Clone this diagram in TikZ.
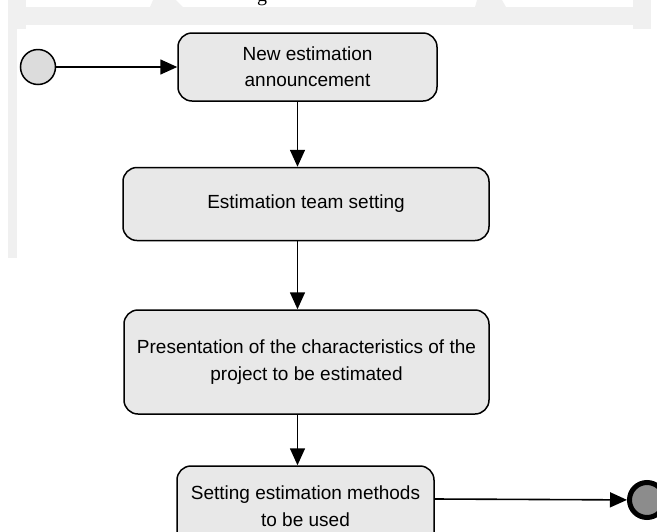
\documentclass[tikz,border=0pt]{standalone}
\usepackage{fontspec}
\setmainfont{Liberation Sans}
\newfontfamily\captionserif{Liberation Serif}
\usetikzlibrary{arrows.meta}
\definecolor{bgband}{HTML}{F0F0F0}
\definecolor{boxfill}{HTML}{E8E8E8}
\definecolor{startfill}{HTML}{DCDCDC}
\definecolor{endfill}{HTML}{8C8C8C}
\tikzset{
  actbox/.style={draw=black, line width=1.5pt, fill=boxfill, rounded corners=14pt,
    align=center, font=\fontsize{19}{26}\selectfont, inner sep=0pt},
  acttext/.style={align=center, font=\fontsize{19}{27}\selectfont, inner sep=0pt},
  flow/.style={draw=black, line width=1.6pt, -{Triangle[length=17pt,width=15pt]}},
  startnode/.style={circle, draw=black, line width=1.5pt, fill=startfill, minimum size=35pt, inner sep=0pt},
  endnode/.style={circle, draw=black, line width=5pt, fill=endfill, minimum size=35pt, inner sep=0pt},
}
\begin{document}
\begin{tikzpicture}[x=1pt,y=-1pt]
\useasboundingbox (0,0) rectangle (657,531);
\clip (0,0) rectangle (657,531);
% page background artefacts
\fill[bgband] (8,0) rectangle (26,29);
\fill[bgband] (8,29) rectangle (17,258);
\fill[bgband] (8,7) rectangle (651,25);
\fill[bgband] (633,0) rectangle (651,29);
\fill[bgband] (153,0) -- (176,0) -- (183,7) -- (150,7) -- cycle;
\fill[bgband] (477,0) -- (502,0) -- (506,7) -- (475,7) -- cycle;
\node[font=\captionserif\fontsize{20}{24}\selectfont, anchor=base, inner sep=0pt] (capg) at (262,1) {g};

% nodes
\node[startnode] (start) at (38,67) {};
\node[actbox, minimum width=259pt, minimum height=68pt] (b1) at (307.5,67) {New estimation\\announcement};
\node[actbox, minimum width=366pt, minimum height=73pt] (b2) at (306,204) {Estimation team setting};
\node[actbox, minimum width=365pt, minimum height=104pt, font=\fontsize{19}{27}\selectfont] (b3) at (306.5,362) {Presentation of the characteristics of the\\project to be estimated};
\node[actbox, minimum width=257pt, minimum height=86pt] (b4) at (305.5,509) {};
\node[acttext] (b4t) at (305.5,506) {Setting estimation methods\\to be used};
\node[endnode] (end) at (647,500) {};

\coordinate (ax) at (297.5,0);
\coordinate (ey) at (0,499);

% connectors
\draw[flow] (start) -- (b1.west |- start);
\draw[flow] (b1.south -| ax) -- (b2.north -| ax);
\draw[flow] (b2.south -| ax) -- (b3.north -| ax);
\draw[flow] (b3.south -| ax) -- (b4.north -| ax);
\draw[flow] (b4.east |- ey) -- (end);
\end{tikzpicture}
\end{document}
